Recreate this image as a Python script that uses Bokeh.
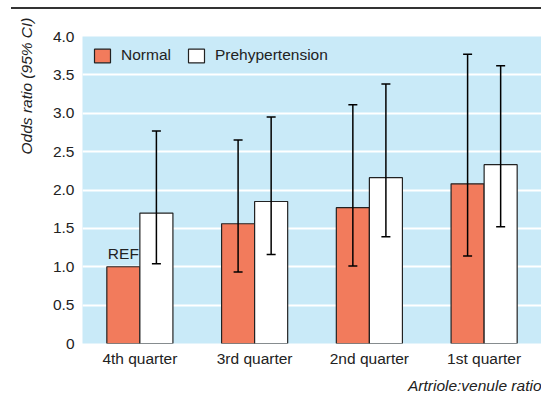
from bokeh.plotting import figure
from bokeh.layouts import column
from bokeh.models import (FactorRange, ColumnDataSource, FixedTicker, Legend, LegendItem,
                          Title, Div, NumeralTickFormatter)
from bokeh.transform import dodge
from bokeh.core.properties import value
from bokeh.embed import file_html
from bokeh.resources import INLINE

# ---- data ----
quarters = ["4th quarter", "3rd quarter", "2nd quarter", "1st quarter"]
normal = [1.00, 1.56, 1.77, 2.08]
normal_lower = [None, 0.93, 1.01, 1.14]
normal_upper = [None, 2.65, 3.11, 3.77]
prehyp = [1.70, 1.85, 2.16, 2.33]
prehyp_lower = [1.04, 1.16, 1.39, 1.52]
prehyp_upper = [2.77, 2.95, 3.38, 3.62]
ref_label = "REF"
yticks = [0, 0.5, 1.0, 1.5, 2.0, 2.5, 3.0, 3.5, 4.0]
ytick_labels = ["0", "0.5", "1.0", "1.5", "2.0", "2.5", "3.0", "3.5", "4.0"]

FONT = "Liberation Sans"
FS = "15.5px"
TXT = "#222222"
ORANGE = "#F27B5C"
BG = "#C9EAF8"
OFF = 0.144
BW = 0.288

p = figure(x_range=FactorRange(*quarters), y_range=(0, 4), width=541, height=389,
           output_backend="svg", toolbar_location=None,
           min_border_left=82, min_border_right=0, min_border_top=27, min_border_bottom=55)
p.background_fill_color = BG
p.border_fill_color = "white"
p.outline_line_color = None
p.xgrid.grid_line_color = None
p.ygrid.grid_line_color = "white"
p.ygrid.grid_line_width = 2
p.ygrid.ticker = FixedTicker(ticks=yticks)

p.yaxis.ticker = FixedTicker(ticks=yticks)
p.yaxis.formatter = NumeralTickFormatter(format="0.0")
p.yaxis.major_label_overrides = {t: l for t, l in zip(yticks, ytick_labels)}
for ax in (p.xaxis, p.yaxis):
    ax.axis_line_color = None
    ax.major_tick_line_color = None
    ax.minor_tick_line_color = None
    ax.major_label_text_font = FONT
    ax.major_label_text_font_size = FS
    ax.major_label_text_color = TXT
p.yaxis.major_label_standoff = 2
p.xaxis.major_label_standoff = 0

src = ColumnDataSource(dict(q=quarters, normal=normal, prehyp=prehyp))
rn = p.vbar(x=dodge("q", -OFF, range=p.x_range), top="normal", width=BW, source=src,
            fill_color=ORANGE, line_color="#222222", line_width=1.2)
rp = p.vbar(x=dodge("q", OFF, range=p.x_range), top="prehyp", width=BW, source=src,
            fill_color="white", line_color="#222222", line_width=1.2)


def errbars(qs, lo, hi, off):
    keep = [i for i in range(len(qs)) if lo[i] is not None]
    s = ColumnDataSource(dict(q=[qs[i] for i in keep], lo=[lo[i] for i in keep],
                              hi=[hi[i] for i in keep]))
    xx = dodge("q", off, range=p.x_range)
    p.segment(x0=xx, y0="lo", x1=xx, y1="hi", source=s, line_color="black", line_width=1.5)
    for col in ("lo", "hi"):
        p.scatter(x=xx, y=col, source=s, marker="dash", size=9, line_color="black",
                  line_width=1.5)


errbars(quarters, normal_lower, normal_upper, -OFF)
errbars(quarters, prehyp_lower, prehyp_upper, OFF)

ref_src = ColumnDataSource(dict(q=[quarters[0]], y=[normal[0]], t=[ref_label]))
p.text(x=dodge("q", -OFF, range=p.x_range), y="y", text="t", source=ref_src,
       text_align="center", text_baseline="bottom", y_offset=-5,
       text_font=value(FONT), text_font_size=FS, text_color=TXT)

legend = Legend(items=[LegendItem(label="Normal", renderers=[rn]),
                       LegendItem(label="Prehypertension", renderers=[rp])],
                orientation="horizontal", location="top_left",
                background_fill_alpha=0, border_line_color=None,
                label_text_font=FONT, label_text_font_size=FS, label_text_color=TXT,
                glyph_width=20, glyph_height=17, label_standoff=9, spacing=15,
                margin=10, padding=2)
p.add_layout(legend)

p.add_layout(Title(text="Artriole:venule ratio", align="right", standoff=10,
                   text_font=FONT, text_font_size=FS, text_font_style="italic",
                   text_color=TXT), "below")
p.add_layout(Title(text="Odds ratio (95% CI)", align="right", standoff=30, offset=-19,
                   text_font=FONT, text_font_size=FS, text_font_style="italic",
                   text_color=TXT), "left")

rule = Div(text="", width=530, height=2, margin=(7, 0, 0, 11),
           styles={"background-color": "#333333"})

layout = column(rule, p, spacing=0)
open("out.html", "w").write(file_html(layout, INLINE))
